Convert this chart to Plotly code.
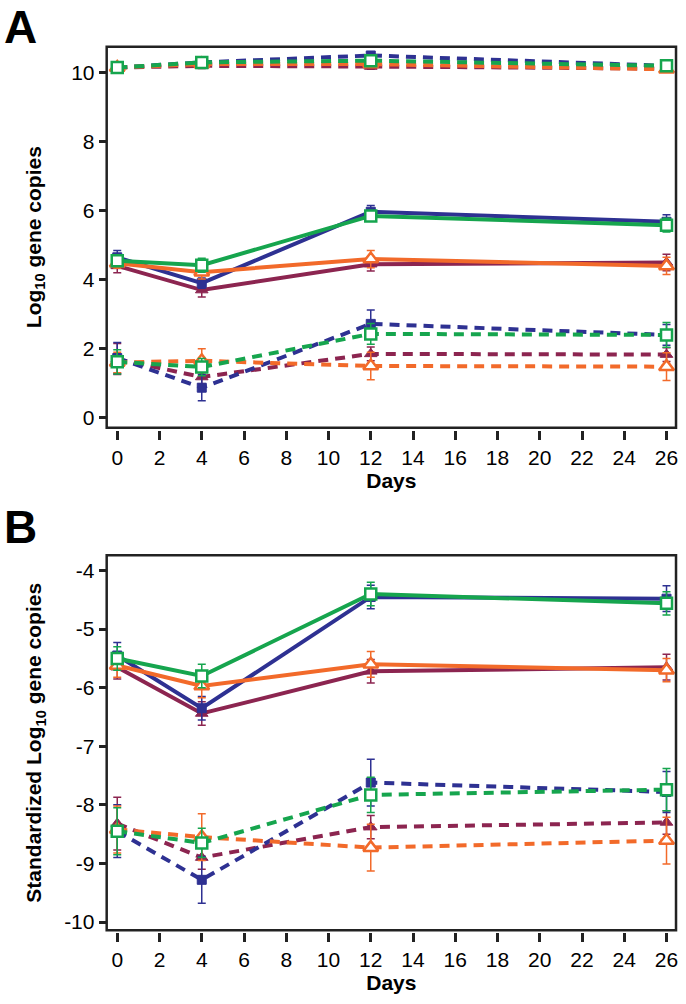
import plotly.graph_objects as go

days = [0, 4, 12, 26]
x_ticks = list(range(0, 27, 2))

# Panel A: solid lines (middle group)
a_solid_blue = [4.65, 3.9, 5.97, 5.68]
a_solid_green = [4.55, 4.42, 5.85, 5.58]
a_solid_orange = [4.48, 4.22, 4.6, 4.4]
a_solid_maroon = [4.4, 3.7, 4.45, 4.5]
a_solid_blue_err = [0.2, 0.15, 0.18, 0.2]
a_solid_green_err = [0.15, 0.2, 0.15, 0.2]
a_solid_orange_err = [0.15, 0.2, 0.25, 0.25]
a_solid_maroon_err = [0.2, 0.2, 0.2, 0.24]

# Panel A: dashed lines (low group)
a_low_blue = [1.73, 0.87, 2.72, 2.4]
a_low_green = [1.62, 1.47, 2.43, 2.4]
a_low_orange = [1.6, 1.65, 1.5, 1.48]
a_low_maroon = [1.7, 1.18, 1.85, 1.83]
a_low_blue_err = [0.45, 0.38, 0.4, 0.3]
a_low_green_err = [0.35, 0.25, 0.3, 0.36]
a_low_orange_err = [0.3, 0.35, 0.4, 0.4]
a_low_maroon_err = [0.45, 0.2, 0.2, 0.2]

# Panel A: dashed lines (top group)
a_top_blue = [10.15, 10.3, 10.5, 10.2]
a_top_green = [10.15, 10.3, 10.35, 10.2]
a_top_orange = [10.15, 10.25, 10.25, 10.1]
a_top_maroon = [10.15, 10.2, 10.18, 10.12]
a_top_err = [0.08, 0.08, 0.08, 0.08]

# Panel B: solid lines
b_solid_blue = [-5.45, -6.35, -4.45, -4.48]
b_solid_green = [-5.5, -5.8, -4.4, -4.56]
b_solid_orange = [-5.62, -5.97, -5.6, -5.7]
b_solid_maroon = [-5.65, -6.44, -5.72, -5.65]
b_solid_blue_err = [0.22, 0.2, 0.2, 0.22]
b_solid_green_err = [0.2, 0.2, 0.2, 0.2]
b_solid_orange_err = [0.2, 0.2, 0.22, 0.2]
b_solid_maroon_err = [0.2, 0.2, 0.2, 0.22]

# Panel B: dashed lines
b_low_blue = [-8.45, -9.28, -7.62, -7.78]
b_low_green = [-8.45, -8.65, -7.83, -7.74]
b_low_orange = [-8.42, -8.55, -8.73, -8.61]
b_low_maroon = [-8.32, -8.9, -8.38, -8.3]
b_low_blue_err = [0.45, 0.4, 0.4, 0.35]
b_low_green_err = [0.4, 0.25, 0.3, 0.36]
b_low_orange_err = [0.4, 0.4, 0.4, 0.4]
b_low_maroon_err = [0.45, 0.2, 0.2, 0.2]

a_yticks = [0, 2, 4, 6, 8, 10]
a_ytick_labels = ["0", "2", "4", "6", "8", "10"]
b_yticks = [-10, -9, -8, -7, -6, -5, -4]
b_ytick_labels = ["-10", "-9", "-8", "-7", "-6", "-5", "-4"]

BLUE = "#2E3192"
GREEN = "#16A54E"
ORANGE = "#F26A2A"
MAROON = "#8C2550"

styles = {
    "blue": dict(color=BLUE, marker=dict(symbol="square", size=9, color=BLUE, line=dict(color=BLUE, width=1))),
    "green": dict(color=GREEN, marker=dict(symbol="square", size=11, color="white", line=dict(color=GREEN, width=2.5))),
    "orange": dict(color=ORANGE, marker=dict(symbol="triangle-up", size=13, color="white", line=dict(color=ORANGE, width=2.5))),
    "maroon": dict(color=MAROON, marker=dict(symbol="triangle-up", size=11, color=MAROON, line=dict(color=MAROON, width=1))),
}

DASH = "10px,7px"

fig = go.Figure()


def add(name, y, err, dash, xa, ya):
    st = styles[name]
    fig.add_trace(go.Scatter(
        x=days, y=y, mode="lines+markers", xaxis=xa, yaxis=ya,
        line=dict(color=st["color"], width=4, dash=dash),
        marker=st["marker"],
        error_y=dict(type="data", array=err, visible=True, color=st["color"], thickness=1.5, width=4),
        showlegend=False, hoverinfo="x+y",
    ))


order = ["maroon", "blue", "orange", "green"]
a_solid = dict(blue=(a_solid_blue, a_solid_blue_err), green=(a_solid_green, a_solid_green_err),
               orange=(a_solid_orange, a_solid_orange_err), maroon=(a_solid_maroon, a_solid_maroon_err))
a_low = dict(blue=(a_low_blue, a_low_blue_err), green=(a_low_green, a_low_green_err),
             orange=(a_low_orange, a_low_orange_err), maroon=(a_low_maroon, a_low_maroon_err))
a_top = dict(blue=(a_top_blue, a_top_err), green=(a_top_green, a_top_err),
             orange=(a_top_orange, a_top_err), maroon=(a_top_maroon, a_top_err))
b_solid = dict(blue=(b_solid_blue, b_solid_blue_err), green=(b_solid_green, b_solid_green_err),
               orange=(b_solid_orange, b_solid_orange_err), maroon=(b_solid_maroon, b_solid_maroon_err))
b_low = dict(blue=(b_low_blue, b_low_blue_err), green=(b_low_green, b_low_green_err),
             orange=(b_low_orange, b_low_orange_err), maroon=(b_low_maroon, b_low_maroon_err))

for grp, dash in [(a_low, DASH), (a_top, DASH), (a_solid, "solid")]:
    for n in order:
        add(n, grp[n][0], grp[n][1], dash, "x", "y")
for grp, dash in [(b_low, DASH), (b_solid, "solid")]:
    for n in order:
        add(n, grp[n][0], grp[n][1], dash, "x2", "y2")

H = 1004.0
W = 686.0
xdom = [107 / W, 678 / W]
a_ydom = [1 - 429 / H, 1 - 47 / H]
b_ydom = [1 - 933 / H, 1 - 557 / H]

tickfont = dict(family="Liberation Sans Narrow, Arial Narrow, Liberation Sans, Arial", size=21, color="black")
titlefont = dict(family="Liberation Sans, Arial", size=21, color="black")
ytitlefont = dict(family="Liberation Sans, Arial", size=21, color="black")

xcommon = dict(range=[-0.5, 26.45], tickvals=x_ticks, ticks="outside", ticklen=9, tickwidth=2.5,
               tickcolor="#222", showline=False, showgrid=False, zeroline=False, tickfont=tickfont,
               domain=xdom, anchor="free")
ycommon = dict(ticks="outside", ticklen=7, tickwidth=2.5, tickcolor="#222", showline=False,
               showgrid=False, zeroline=False, tickfont=tickfont)

fig.update_layout(
    width=686, height=1004, margin=dict(l=0, r=0, t=0, b=0),
    paper_bgcolor="white", plot_bgcolor="white",
    xaxis=dict(**xcommon, position=1 - 431 / H,
               title=dict(text="<b>Days</b>", font=titlefont, standoff=2)),
    yaxis=dict(**ycommon, domain=a_ydom, anchor="x", range=[-0.29, 10.75], tickvals=a_yticks,
               ticktext=a_ytick_labels),
    xaxis2=dict(**xcommon, position=1 - 935 / H,
                title=dict(text="<b>Days</b>", font=titlefont, standoff=2)),
    yaxis2=dict(**ycommon, domain=b_ydom, anchor="x2", range=[-10.14, -3.74], tickvals=b_yticks,
                ticktext=b_ytick_labels),
)

for ya in ["y", "y2"]:
    fig.add_shape(type="rect", xref="x domain" if ya == "y" else "x2 domain", yref=ya + " domain",
                  x0=0, x1=1, y0=0, y1=1, line=dict(color="#222", width=2.5), layer="above")

# y-axis titles
fig.add_annotation(text="<b>Log<sub>10</sub> gene copies</b>", x=35 / W, y=sum(a_ydom) / 2,
                   xref="paper", yref="paper", xanchor="center", yanchor="middle", textangle=-90,
                   showarrow=False, font=ytitlefont)
fig.add_annotation(text="<b>Standardized Log<sub>10</sub> gene copies</b>", x=35 / W, y=sum(b_ydom) / 2,
                   xref="paper", yref="paper", xanchor="center", yanchor="middle", textangle=-90,
                   showarrow=False, font=ytitlefont)

fig.add_annotation(text="<b>A</b>", x=3 / W, y=1 - 27 / H, xref="paper", yref="paper",
                   xanchor="left", yanchor="middle", showarrow=False, borderpad=0,
                   font=dict(family="Liberation Sans, Arial", size=46, color="black"))
fig.add_annotation(text="<b>B</b>", x=3 / W, y=1 - 529 / H, xref="paper", yref="paper",
                   xanchor="left", yanchor="middle", showarrow=False, borderpad=0,
                   font=dict(family="Liberation Sans, Arial", size=46, color="black"))

fig.write_html("out.html", config={"displayModeBar": False},
               post_script="document.body.style.margin='0';document.body.style.overflow='hidden';")
